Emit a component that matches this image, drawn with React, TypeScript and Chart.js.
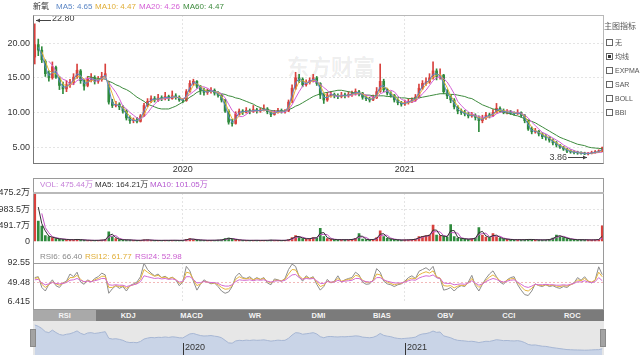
import React, { useEffect, useRef } from "react";
import { Chart, registerables } from "chart.js";

Chart.register(...registerables);

const FONT = '"Liberation Sans", Arial, "Noto Sans CJK SC", sans-serif';

// ---------- data (each point = ~4 trading days) ----------
const stockName = "新氧";
const opens = [
  18.0,19.8,19.0,17.4,15.6,15.0,16.5,15.0,13.8,13.4,
  14.0,14.3,15.1,16.0,14.6,13.9,14.8,15.0,14.5,14.8,
  15.2,14.0,11.5,11.0,11.2,10.8,10.2,9.2,8.8,8.9,
  8.7,9.5,11.0,11.6,12.0,11.8,12.1,12.0,12.3,12.0,
  12.4,12.2,11.8,11.7,13.0,14.2,14.5,13.8,13.2,12.9,
  13.0,13.2,12.8,12.5,11.8,10.2,8.6,8.4,9.8,10.2,
  10.0,10.3,10.1,10.4,10.2,10.3,10.5,10.1,9.7,10.0,
  10.3,10.1,10.2,11.5,13.5,15.0,14.8,14.0,14.3,14.6,
  15.0,14.2,12.5,11.8,12.5,12.6,12.4,12.3,12.5,12.4,
  12.6,12.7,13.0,12.8,12.2,12.0,11.8,12.1,13.0,14.5,
  13.3,12.8,12.5,11.8,11.4,11.2,11.4,11.6,11.8,12.2,
  13.5,14.2,14.4,15.0,16.0,15.2,15.4,13.0,12.4,11.8,
  10.8,10.2,10.0,9.8,9.5,9.6,9.3,8.8,9.2,9.6,
  9.5,10.0,10.6,10.3,10.0,10.1,9.9,9.8,10.0,9.6,
  8.8,7.6,7.2,7.3,6.9,6.5,6.4,6.0,5.6,5.3,
  5.0,4.7,4.4,4.3,4.2,4.15,4.1,4.0,4.05,4.2,
  4.3,4.35,
];
const closes = [
  19.8,19.0,17.6,15.6,15.0,16.6,15.1,13.9,13.4,14.0,
  14.3,15.1,16.1,14.6,13.8,14.8,15.0,14.5,14.8,15.2,
  15.6,11.5,11.0,11.2,10.8,10.2,9.2,8.8,8.9,8.7,
  9.5,11.0,11.6,12.0,11.8,12.1,12.0,12.3,12.0,12.4,
  12.2,11.8,11.7,13.0,14.2,14.5,13.8,13.2,12.9,13.0,
  13.2,12.8,12.5,11.8,10.2,8.6,8.4,9.8,10.2,10.0,
  10.3,10.1,10.4,10.2,10.3,10.5,10.1,9.7,10.0,10.3,
  10.1,10.2,11.5,13.5,15.0,14.8,14.0,14.3,14.6,15.0,
  14.2,12.5,11.8,12.5,12.6,12.4,12.3,12.5,12.4,12.6,
  12.7,13.0,12.8,12.2,12.0,11.8,12.1,13.0,14.5,13.3,
  12.8,12.5,11.8,11.4,11.2,11.4,11.6,11.8,12.2,13.5,
  14.2,14.4,15.0,16.0,15.2,15.4,13.0,12.4,11.8,10.8,
  10.2,10.0,9.8,9.5,9.6,9.3,8.8,9.2,9.6,9.5,
  10.0,10.6,10.3,10.0,10.1,9.9,9.8,10.0,9.6,8.8,
  7.6,7.2,7.3,6.9,6.5,6.4,6.0,5.6,5.3,5.0,
  4.7,4.4,4.3,4.2,4.15,4.1,4.0,4.05,4.2,4.3,
  4.35,4.9,
];
const highs = [
  22.8,20.6,19.5,17.6,16.0,17.3,16.7,15.2,14.4,14.6,
  14.8,15.6,17.0,16.2,14.8,15.2,15.6,15.3,15.2,15.8,
  17.0,14.5,11.9,11.6,11.4,11.0,10.4,9.5,9.2,9.3,
  9.7,11.3,12.0,12.4,12.3,12.6,12.4,12.9,12.5,13.1,
  12.7,12.4,12.0,13.3,14.6,14.8,14.6,13.9,13.5,13.4,
  13.6,13.4,13.0,12.6,11.9,10.4,9.0,10.1,10.5,10.4,
  10.7,10.5,11.0,10.6,10.6,11.1,10.7,10.2,10.3,10.6,
  10.5,10.4,11.8,14.0,15.8,15.5,15.0,14.7,15.0,15.5,
  15.2,14.3,12.7,12.9,13.0,12.8,12.7,12.9,12.8,13.0,
  13.1,13.4,13.2,12.9,12.4,12.2,12.5,13.6,17.0,14.8,
  13.5,13.0,12.6,12.0,11.6,11.8,12.0,12.1,12.6,14.1,
  14.6,15.0,15.6,17.3,16.3,16.3,15.5,13.3,12.6,12.0,
  11.0,10.5,10.3,10.0,10.0,9.8,9.5,9.6,10.0,9.9,
  10.4,11.3,10.8,10.5,10.4,10.3,10.1,10.4,10.1,9.7,
  8.9,7.9,7.7,7.4,7.1,6.8,6.5,6.2,5.8,5.4,
  5.1,4.8,4.6,4.5,4.4,4.3,4.25,4.2,4.4,4.5,
  4.6,5.0,
];
const lows = [
  17.0,18.2,17.2,15.2,14.5,14.8,14.9,13.3,12.7,13.0,
  13.6,14.0,14.9,14.2,13.2,13.7,14.4,14.1,14.2,14.5,
  15.0,11.2,10.7,10.8,10.4,9.9,8.9,8.4,8.5,8.5,
  8.6,9.4,10.8,11.4,11.5,11.6,11.7,11.8,11.7,11.9,
  11.9,11.6,11.4,11.6,12.9,13.9,13.5,12.6,12.5,12.6,
  12.8,12.5,12.2,11.5,10.0,8.3,8.0,8.3,9.6,9.7,
  9.9,9.8,10.0,9.9,10.0,10.2,9.8,9.4,9.6,9.9,
  9.9,9.9,10.1,11.4,13.3,14.3,13.7,13.8,14.1,14.4,
  13.9,12.0,11.3,11.6,12.2,12.1,12.0,12.1,12.1,12.2,
  12.3,12.5,12.4,11.9,11.7,11.5,11.7,12.0,12.9,13.0,
  12.5,12.2,11.5,11.1,10.9,11.0,11.2,11.4,11.6,12.1,
  13.3,13.9,14.2,14.8,14.7,14.8,12.7,12.0,11.4,10.5,
  9.8,9.7,9.5,9.2,9.3,8.9,7.2,8.5,9.0,9.2,
  9.4,9.9,10.0,9.8,9.8,9.7,9.6,9.7,9.3,8.5,
  7.4,6.9,7.0,6.6,6.2,6.0,5.7,5.3,5.0,4.8,
  4.5,4.2,4.1,4.0,3.95,3.95,3.9,3.86,4.0,4.1,
  4.2,4.3,
];
const ma5 = [
  null,19.4,18.3,16.6,15.3,15.8,15.85,14.5,13.65,13.7,
  14.15,14.7,15.6,15.35,14.2,14.3,14.9,14.75,14.65,15.0,
  15.4,13.55,11.25,11.1,11.0,10.5,9.7,9.0,8.85,8.8,
  9.1,10.25,11.3,11.8,11.9,11.95,12.05,12.15,12.15,12.2,
  12.3,12.0,11.75,12.35,13.6,14.35,14.15,13.5,13.05,12.95,
  13.1,13.0,12.65,12.15,11.0,9.4,8.5,9.1,10.0,10.1,
  10.15,10.2,10.25,10.3,10.25,10.4,10.3,9.9,9.85,10.15,
  10.2,10.15,10.85,12.5,14.25,14.9,14.4,14.15,14.45,14.8,
  14.6,13.35,12.15,12.15,12.55,12.5,12.35,12.4,12.45,12.5,
  12.65,12.85,12.9,12.5,12.1,11.9,11.95,12.55,13.75,13.9,
  13.05,12.65,12.15,11.6,11.3,11.3,11.5,11.7,12.0,12.85,
  13.85,14.3,14.7,15.5,15.6,15.3,14.2,12.7,12.1,11.3,
  10.5,10.1,9.9,9.65,9.55,9.45,9.05,9.0,9.4,9.55,
  9.75,10.3,10.45,10.15,10.05,10.0,9.85,9.9,9.8,9.2,
  8.2,7.4,7.25,7.1,6.7,6.45,6.2,5.8,5.45,5.15,
  4.85,4.55,4.35,4.25,4.18,4.12,4.05,4.03,4.12,4.25,
  4.33,4.65,
];
const ma10 = [
  null,null,18.8,17.4,16.07,15.73,15.57,15.2,14.13,13.77,
  13.9,14.47,15.17,15.27,14.83,14.4,14.53,14.77,14.77,14.83,
  15.2,14.1,12.7,11.23,11.0,10.73,10.07,9.4,8.97,8.8,
  9.03,9.73,10.7,11.53,11.8,11.97,11.97,12.13,12.1,12.23,
  12.2,12.13,11.9,12.17,12.97,13.9,14.17,13.83,13.3,13.03,
  13.03,13.0,12.83,12.37,11.5,10.2,9.07,8.93,9.47,10.0,
  10.17,10.13,10.27,10.23,10.3,10.33,10.3,10.1,9.93,10.0,
  10.13,10.2,10.6,11.73,13.33,14.43,14.6,14.37,14.3,14.63,
  14.6,13.9,12.83,12.27,12.3,12.5,12.43,12.4,12.4,12.5,
  12.57,12.77,12.83,12.67,12.33,12.0,11.97,12.3,13.2,13.6,
  13.53,12.87,12.37,11.9,11.47,11.33,11.4,11.6,11.87,12.5,
  13.3,14.03,14.53,15.13,15.4,15.53,14.53,13.6,12.4,11.67,
  10.93,10.33,10.0,9.77,9.63,9.47,9.23,9.1,9.2,9.43,
  9.7,10.03,10.3,10.3,10.13,10.0,9.93,9.9,9.8,9.47,
  8.67,7.87,7.37,7.13,6.9,6.6,6.3,6.0,5.63,5.3,
  5.0,4.7,4.47,4.3,4.22,4.15,4.08,4.05,4.08,4.18,
  4.28,4.47,
];
const ma20 = [
  null,null,null,null,17.4,16.8,16.0,15.2,14.8,14.6,
  14.1,14.1,14.6,14.8,14.8,14.9,14.9,14.5,14.6,14.9,
  15.0,14.3,13.6,12.9,12.0,10.9,10.5,10.0,9.6,9.2,
  9.0,9.4,9.9,10.6,11.2,11.7,11.9,12.0,12.0,12.2,
  12.2,12.1,12.0,12.2,12.6,13.0,13.4,13.7,13.7,13.5,
  13.2,13.0,12.9,12.7,12.1,11.2,10.3,9.8,9.4,9.4,
  9.7,10.1,10.2,10.2,10.3,10.3,10.3,10.2,10.1,10.1,
  10.0,10.1,10.4,11.1,12.1,13.0,13.8,14.3,14.5,14.5,
  14.4,14.1,13.6,13.2,12.7,12.4,12.3,12.5,12.4,12.4,
  12.5,12.6,12.7,12.7,12.5,12.4,12.2,12.2,12.7,12.9,
  13.1,13.2,13.0,12.4,11.9,11.7,11.5,11.5,11.6,12.1,
  12.7,13.2,13.9,14.6,15.0,15.2,14.9,14.4,13.6,12.7,
  11.6,11.0,10.5,10.1,9.8,9.6,9.4,9.3,9.3,9.3,
  9.4,9.8,10.0,10.1,10.2,10.2,10.0,10.0,9.9,9.6,
  9.2,8.6,8.1,7.6,7.1,6.9,6.6,6.3,6.0,5.7,
  5.3,5.0,4.7,4.5,4.3,4.2,4.1,4.1,4.1,4.15,
  4.2,4.26,
];
const ma60 = [
  null,null,null,null,null,null,null,null,null,null,
  null,null,null,null,null,15.2,15.1,15.0,14.9,14.9,
  14.8,14.5,14.3,14.0,13.8,13.5,13.3,13.0,12.6,12.2,
  11.9,11.6,11.2,11.0,10.8,10.6,10.5,10.5,10.5,10.7,
  10.9,11.2,11.5,11.8,12.2,12.5,12.9,13.1,13.2,13.2,
  13.1,13.0,12.9,12.7,12.6,12.4,12.3,12.1,12.0,11.8,
  11.6,11.4,11.2,10.9,10.7,10.5,10.4,10.3,10.2,10.2,
  10.2,10.2,10.4,10.6,10.9,11.1,11.4,11.7,12.0,12.3,
  12.5,12.7,12.8,12.9,13.0,13.1,13.2,13.2,13.1,13.0,
  12.9,12.8,12.7,12.6,12.5,12.5,12.4,12.4,12.4,12.4,
  12.3,12.3,12.2,12.2,12.1,12.1,12.0,12.0,12.1,12.1,
  12.2,12.3,12.4,12.5,12.6,12.7,12.7,12.7,12.6,12.6,
  12.5,12.4,12.3,12.1,12.0,11.7,11.4,11.1,10.9,10.7,
  10.5,10.4,10.2,10.0,9.9,9.8,9.6,9.5,9.3,9.1,
  8.9,8.7,8.5,8.2,7.9,7.6,7.3,7.0,6.7,6.4,
  6.2,6.0,5.8,5.6,5.4,5.3,5.2,5.0,4.9,4.85,
  4.8,4.75,
];
const volumes = [
  1475.2,620,470,180,150,120,90,80,70,60,
  55,60,70,50,45,40,38,35,40,45,
  60,300,150,90,60,50,55,45,40,35,
  40,55,50,40,35,38,35,40,35,42,
  38,35,40,70,90,60,50,45,40,38,
  42,40,45,55,90,110,70,60,45,40,
  38,35,40,38,35,40,38,45,40,38,
  36,40,60,120,180,130,90,80,100,120,
  110,400,150,90,70,60,55,60,55,60,
  70,100,240,80,60,55,70,120,330,150,
  100,70,60,50,45,50,55,60,80,150,
  160,180,200,505,200,180,160,140,520,150,
  110,90,80,70,90,110,425,200,140,120,
  240,150,100,80,70,60,55,60,55,60,
  70,60,55,50,50,55,70,110,200,160,
  120,90,70,60,55,60,55,50,50,55,
  70,475.44,
];
const volMa5 = [
  null,1048,545,325,165,135,105,85,75,65,
  58,58,65,60,48,43,39,37,38,43,
  53,180,225,120,75,55,53,50,43,38,
  38,48,53,45,38,37,37,38,38,39,
  40,37,38,55,80,75,55,48,43,39,
  40,41,43,50,73,100,90,65,53,43,
  39,37,38,39,37,38,39,42,43,39,
  37,38,50,90,150,155,110,85,90,110,
  115,255,275,120,80,65,58,58,58,58,
  65,85,170,160,70,58,63,95,225,240,
  125,85,65,55,48,48,53,58,70,115,
  155,170,190,350,350,190,170,150,330,335,
  130,100,85,75,80,100,270,310,170,130,
  180,195,125,90,75,65,58,58,58,58,
  65,65,58,53,50,53,63,90,155,180,
  140,105,80,65,58,58,58,53,50,53,
  63,164.21,
];
const volMa10 = [
  null,null,855,423,267,150,120,97,80,70,
  62,58,62,60,55,45,41,38,38,40,
  48,135,170,180,100,67,55,50,47,40,
  38,43,48,48,42,38,36,38,37,39,
  38,38,38,48,67,73,67,52,45,41,
  40,40,42,47,63,85,90,80,58,48,
  41,38,38,38,38,38,38,41,41,41,
  38,38,45,73,120,143,133,100,90,100,
  110,210,220,213,103,73,62,58,57,58,
  62,77,137,140,127,65,62,82,173,200,
  193,107,77,60,52,48,50,55,65,97,
  130,163,180,295,302,295,180,160,273,270,
  260,117,93,80,80,90,208,245,255,153,
  167,170,163,110,83,70,62,58,57,58,
  62,63,62,55,52,52,58,78,127,157,
  160,123,93,73,62,58,57,55,52,52,
  58,101.05,
];
const rsi6 = [
  60,62,38,30,45,55,42,38,48,52,
  68,62,72,50,45,55,50,58,62,70,
  66,25,35,42,36,40,30,42,46,50,
  62,92,78,70,64,68,60,63,57,61,
  55,42,50,85,75,52,32,45,55,50,
  46,48,40,30,25,28,40,62,70,60,
  58,62,55,60,56,60,48,44,57,55,
  52,58,78,90,85,62,52,64,58,62,
  45,32,40,56,48,52,64,50,55,58,
  60,72,66,50,45,46,55,80,72,52,
  46,44,40,44,46,52,60,64,58,74,
  78,82,76,85,60,58,32,34,38,30,
  38,42,40,50,65,42,30,45,58,68,
  75,62,50,45,55,60,62,44,32,22,
  20,30,46,42,40,44,40,42,38,36,
  40,38,44,48,60,54,62,52,48,55,
  84,66.4,
];
const rsi12 = [
  58,60,45,38,44,50,46,43,47,50,
  60,60,65,56,50,53,51,55,58,63,
  63,38,38,42,40,41,36,41,44,47,
  56,78,72,67,63,65,60,61,58,60,
  56,47,50,72,70,56,42,46,52,50,
  48,48,44,38,34,35,42,56,62,58,
  57,59,55,58,56,58,51,48,54,54,
  53,56,68,78,77,64,57,61,58,60,
  50,40,43,52,49,51,58,52,54,56,
  57,65,63,54,50,49,53,68,66,55,
  50,47,44,46,47,51,56,59,57,66,
  70,73,70,75,62,59,42,41,42,37,
  41,43,42,48,58,46,38,45,54,61,
  66,60,53,49,54,57,58,48,40,32,
  30,36,45,43,42,44,42,43,41,40,
  42,41,44,47,55,53,58,52,50,54,
  72,61.77,
];
const rsi24 = [
  55,56,48,44,46,49,47,46,47,49,
  54,55,58,54,51,52,51,53,55,58,
  58,44,43,44,43,43,40,42,44,46,
  51,64,62,60,58,59,57,58,56,57,
  55,50,51,62,62,56,48,49,51,50,
  49,49,47,43,41,41,44,51,55,54,
  54,55,53,55,54,55,52,50,52,53,
  52,54,60,66,67,60,56,58,57,58,
  53,47,47,51,50,50,54,51,52,53,
  54,58,58,53,51,50,52,60,60,55,
  52,50,48,48,48,50,53,55,54,59,
  62,64,63,66,60,58,48,47,47,44,
  45,46,45,48,53,48,43,46,51,55,
  58,56,52,50,52,54,55,50,45,40,
  38,41,45,44,44,45,44,44,43,43,
  44,43,45,47,51,50,53,50,49,51,
  60,52.98,
];

// ---------- axes / labels ----------
const xTickIdx = [42, 105];
const xTickLabels = ["2020", "2021"];
const priceRange = [2.69, 24.08];
const priceTicks = [5, 10, 15, 20];
const priceTickLabels = ["5.00", "10.00", "15.00", "20.00"];
const volRange = [0, 1475.2];
const volTicks = [0, 491.7, 983.5, 1475.2];
const volTickLabels = ["0", "491.7万", "983.5万", "1475.2万"];
const rsiRange = [6.415, 92.55];
const rsiTicks = [6.415, 49.48, 92.55];
const rsiTickLabels = ["6.415", "49.48", "92.55"];
const navRange = [1, 22.3];

const titleItems = [
  { text: stockName, color: "#333", left: 33 },
  { text: "MA5: 4.65", color: "#5b86c5", left: 56 },
  { text: "MA10: 4.47", color: "#e0ad35", left: 95 },
  { text: "MA20: 4.26", color: "#d45fd6", left: 139 },
  { text: "MA60: 4.47", color: "#3d8b3d", left: 183 },
];
const volHeader = [
  { text: "VOL: 475.44万", color: "#c57fd8", left: 40 },
  { text: "MA5: 164.21万", color: "#333", left: 95 },
  { text: "MA10: 101.05万", color: "#b65ad0", left: 150 },
];
const rsiHeader = [
  { text: "RSI6: 66.40", color: "#8a8a8a", left: 40 },
  { text: "RSI12: 61.77", color: "#e0ad35", left: 85 },
  { text: "RSI24: 52.98", color: "#c95ccf", left: 135 },
];
const indicatorTabs = ["RSI", "KDJ", "MACD", "WR", "DMI", "BIAS", "OBV", "CCI", "ROC"];
const legendTitle = "主图指标";
const legendItems = ["无", "均线", "EXPMA", "SAR", "BOLL", "BBI"];
const legendChecked = 1;
const watermark = "东方财富";

// ---------- styles ----------
const UP = "#d8413d";
const DOWN = "#2e8a3c";
const MA_COLORS = ["#5b86c5", "#e6b53c", "#d45fd6", "#3d8b3d"];
const GRID = "#e4e4e4";
const TXT = "#333";

const labels = closes.map((_, i) => String(i));
const isUp = (i: number) => closes[i] >= opens[i];
const candleColor = (c: any) => (isUp(c.dataIndex) ? UP : DOWN);

const lineDs = (data: any[], color: string, width = 1) => ({
  type: "line",
  data,
  borderColor: color,
  borderWidth: width,
  pointRadius: 0,
  tension: 0,
  fill: false,
  order: 1,
});

function xScale(showLabels: boolean, height: number) {
  return {
    type: "category",
    offset: true,
    grid: { offset: false, color: GRID, drawTicks: false },
    border: { display: false, dash: [2, 2] },
    ticks: {
      display: showLabels,
      autoSkip: false,
      maxRotation: 0,
      padding: 1,
      color: TXT,
      font: { size: 9, family: FONT },
      callback: (v: number) => {
        const k = xTickIdx.indexOf(v);
        return k >= 0 ? xTickLabels[k] : "";
      },
    },
    afterBuildTicks: (s: any) => {
      s.ticks = xTickIdx.map((v) => ({ value: v }));
    },
    afterFit: (s: any) => {
      s.height = height;
    },
  };
}

function yScale(range: number[], ticks: number[], tickLabels: string[], gridColor: any) {
  return {
    min: range[0],
    max: range[1],
    afterBuildTicks: (s: any) => {
      s.ticks = ticks.map((v) => ({ value: v }));
    },
    afterFit: (s: any) => {
      s.width = 33;
    },
    grid: { drawTicks: false, color: gridColor },
    border: { display: false, dash: [2, 2] },
    ticks: {
      padding: 3,
      color: TXT,
      font: { size: 9, family: FONT },
      callback: (v: number) => {
        const k = ticks.indexOf(v);
        return k >= 0 ? tickLabels[k] : "";
      },
    },
  };
}

const baseOptions = (padding: any, scales: any) => ({
  animation: false,
  responsive: false,
  maintainAspectRatio: false,
  devicePixelRatio: 1,
  layout: { padding },
  plugins: { legend: { display: false }, tooltip: { enabled: false } },
  scales,
});

const extremaPlugin = {
  id: "extrema",
  afterDatasetsDraw(chart: any) {
    const { ctx } = chart;
    const x = chart.scales.x;
    const y = chart.scales.y;
    const hi = Math.max(...highs);
    const iHi = highs.indexOf(hi);
    const lo = Math.min(...lows);
    const iLo = lows.indexOf(lo);
    ctx.save();
    ctx.strokeStyle = "#444";
    ctx.fillStyle = "#444";
    ctx.lineWidth = 1;
    ctx.font = `9px ${FONT}`;
    ctx.textBaseline = "middle";
    // max
    let px = Math.round(x.getPixelForValue(iHi)) + 1;
    let py = Math.round(y.getPixelForValue(hi)) - 3.5;
    ctx.beginPath();
    ctx.moveTo(px, py);
    ctx.lineTo(px + 15, py);
    ctx.stroke();
    ctx.beginPath();
    ctx.moveTo(px, py);
    ctx.lineTo(px + 4, py - 2);
    ctx.lineTo(px + 4, py + 2);
    ctx.closePath();
    ctx.fill();
    ctx.textAlign = "left";
    ctx.fillText(hi.toFixed(2), px + 16, py - 1.5);
    // min
    px = Math.round(x.getPixelForValue(iLo)) - 1;
    py = Math.round(y.getPixelForValue(lo)) + 2.5;
    ctx.beginPath();
    ctx.moveTo(px - 19, py);
    ctx.lineTo(px, py);
    ctx.stroke();
    ctx.beginPath();
    ctx.moveTo(px, py);
    ctx.lineTo(px - 4, py - 2);
    ctx.lineTo(px - 4, py + 2);
    ctx.closePath();
    ctx.fill();
    ctx.textAlign = "right";
    ctx.fillText(lo.toFixed(2), px - 20, py);
    ctx.restore();
  },
};

const navMarkerPlugin = {
  id: "navMarkers",
  afterDraw(chart: any) {
    const { ctx, chartArea: a } = chart;
    const x = chart.scales.x;
    ctx.save();
    ctx.strokeStyle = "#333";
    ctx.fillStyle = "#333";
    ctx.lineWidth = 1;
    ctx.font = `9px ${FONT}`;
    ctx.textBaseline = "middle";
    ctx.textAlign = "left";
    xTickIdx.forEach((v, k) => {
      const px = Math.round(x.getPixelForValue(v)) + 0.5;
      ctx.beginPath();
      ctx.moveTo(px, a.bottom - 12);
      ctx.lineTo(px, a.bottom);
      ctx.stroke();
      ctx.fillText(xTickLabels[k], px + 1.5, a.bottom - 7);
    });
    ctx.restore();
  },
};

function mainConfig() {
  return {
    type: "bar",
    data: {
      labels,
      datasets: [
        lineDs(ma5, MA_COLORS[0]),
        lineDs(ma10, MA_COLORS[1]),
        lineDs(ma20, MA_COLORS[2]),
        lineDs(ma60, MA_COLORS[3]),
        {
          type: "bar",
          data: lows.map((l, i) => [l, highs[i]]),
          backgroundColor: candleColor,
          barThickness: 1,
          grouped: false,
          order: 3,
        },
        {
          type: "bar",
          data: opens.map((o, i) => [o, closes[i]]),
          backgroundColor: candleColor,
          barThickness: 2,
          minBarLength: 1,
          grouped: false,
          order: 2,
        },
      ],
    },
    options: baseOptions(
      { top: 15, right: 37, left: 0, bottom: 0 },
      {
        x: xScale(true, 12),
        y: yScale(priceRange, priceTicks, priceTickLabels, GRID),
      }
    ),
    plugins: [extremaPlugin],
  };
}

function volConfig() {
  return {
    type: "bar",
    data: {
      labels,
      datasets: [
        lineDs(volMa5, "#333"),
        lineDs(volMa10, "#c453c4"),
        {
          type: "bar",
          data: volumes,
          backgroundColor: candleColor,
          barThickness: 2,
          order: 2,
        },
      ],
    },
    options: baseOptions(
      { top: 15, right: 37, left: 0, bottom: 1 },
      {
        x: xScale(false, 0),
        y: yScale(volRange, volTicks, volTickLabels, (c: any) =>
          c.tick && (c.tick.value === volTicks[1] || c.tick.value === volTicks[2]) ? GRID : "rgba(0,0,0,0)"
        ),
      }
    ),
  };
}

function rsiConfig() {
  return {
    type: "line",
    data: {
      labels,
      datasets: [
        lineDs(rsi24, "#d36bd3"),
        lineDs(rsi12, "#e6b53c"),
        lineDs(rsi6, "#8c8c8c"),
      ],
    },
    options: baseOptions(
      { top: 13, right: 37, left: 0, bottom: 3 },
      {
        x: xScale(false, 0),
        y: yScale(rsiRange, rsiTicks, rsiTickLabels, (c: any) =>
          c.tick && c.tick.value === rsiTicks[1] ? "#f2b9b9" : "rgba(0,0,0,0)"
        ),
      }
    ),
  };
}

function navConfig() {
  return {
    type: "line",
    data: {
      labels,
      datasets: [
        {
          data: closes,
          borderColor: "#a6b6d3",
          backgroundColor: "#c9d4e7",
          borderWidth: 1,
          pointRadius: 0,
          fill: "start",
          tension: 0,
        },
      ],
    },
    options: baseOptions(
      { top: 0, right: 37, left: 33, bottom: 0 },
      {
        x: { type: "category", offset: true, display: false },
        y: { display: false, min: navRange[0], max: navRange[1] },
      }
    ),
    plugins: [navMarkerPlugin],
  };
}

function ChartCanvas({ top, height, build }: { top: number; height: number; build: () => any }) {
  const ref = useRef<HTMLCanvasElement>(null);
  useEffect(() => {
    if (!ref.current) return;
    const chart = new Chart(ref.current, build() as any);
    return () => chart.destroy();
  }, []);
  return (
    <canvas
      ref={ref}
      width={641}
      height={height}
      style={{ position: "absolute", left: 0, top, width: 641, height, display: "block" }}
    />
  );
}

const abs = (s: any): any => ({ position: "absolute", ...s });

function TextRow({ items, cy, size = 8 }: { items: any[]; cy: number; size?: number }) {
  return (
    <>
      {items.map((it) => (
        <div
          key={it.text}
          style={abs({
            left: it.left,
            top: cy - 6,
            height: 12,
            lineHeight: "12px",
            fontSize: size,
            color: it.color,
            whiteSpace: "nowrap",
            fontFamily: FONT,
          })}
        >
          {it.text}
        </div>
      ))}
    </>
  );
}

export default function App() {
  return (
    <div
      style={abs({
        left: 0,
        top: 0,
        width: 641,
        height: 358,
        background: "#fff",
        overflow: "hidden",
        fontFamily: FONT,
      })}
    >
      {/* watermark */}
      <div
        style={abs({
          left: 287,
          top: 52,
          fontSize: 22,
          fontWeight: "bold",
          lineHeight: "26px",
          color: "rgba(0,0,0,0.08)",
          whiteSpace: "nowrap",
          fontFamily: '"Noto Sans CJK SC", sans-serif',
        })}
      >
        {watermark}
      </div>
      {/* navigator background */}
      <div style={abs({ left: 33, top: 321, width: 571, height: 34, background: "#e7e7e7" })} />

      <ChartCanvas top={0} height={175} build={mainConfig} />
      <ChartCanvas top={178} height={72} build={volConfig} />
      <ChartCanvas top={250} height={60} build={rsiConfig} />
      <ChartCanvas top={321} height={34} build={navConfig} />

      {/* frames */}
      <div
        style={abs({
          left: 33,
          top: 15,
          width: 571,
          height: 149,
          boxSizing: "border-box",
          borderTop: "1px solid #b8b8b8",
          borderRight: "1px solid #b8b8b8",
          borderLeft: "1px solid #777",
          borderBottom: "1px solid #777",
        })}
      />
      <div
        style={abs({
          left: 33,
          top: 178,
          width: 571,
          height: 132,
          boxSizing: "border-box",
          border: "1px solid #9a9a9a",
        })}
      />
      <div style={abs({ left: 33, top: 192, width: 571, height: 2, background: "#b9b9b9" })} />
      <div style={abs({ left: 33, top: 263, width: 571, height: 1, background: "#9a9a9a" })} />

      {/* texts */}
      <TextRow items={titleItems} cy={7} />
      <TextRow items={volHeader} cy={185} />
      <TextRow items={rsiHeader} cy={257} />

      {/* right legend */}
      <div style={abs({ left: 604, top: 21, fontSize: 8, lineHeight: "12px", color: "#555", whiteSpace: "nowrap" })}>
        {legendTitle}
      </div>
      {legendItems.map((t, i) => (
        <div key={t} style={abs({ left: 606, top: 36 + i * 14.1, height: 12, display: "flex", alignItems: "center" })}>
          <div
            style={{
              width: 7,
              height: 7,
              boxSizing: "border-box",
              border: "1px solid #666",
              background: "#fff",
              position: "relative",
              flex: "none",
            }}
          >
            {i === legendChecked && (
              <div style={abs({ left: 1, top: 1, width: 3, height: 3, background: "#333" })} />
            )}
          </div>
          <span style={{ marginLeft: 2, fontSize: 7, color: "#555", whiteSpace: "nowrap" }}>{t}</span>
        </div>
      ))}

      {/* indicator tabs */}
      <div style={abs({ left: 33, top: 310, width: 571, height: 11, display: "flex", background: "#7b7b7b" })}>
        {indicatorTabs.map((t, i) => (
          <div
            key={t}
            style={{
              flex: 1,
              textAlign: "center",
              fontSize: 7.5,
              lineHeight: "11px",
              fontWeight: "bold",
              color: "#f4f4f4",
              background: i === 0 ? "#a9a9a9" : "transparent",
            }}
          >
            {t}
          </div>
        ))}
      </div>

      {/* navigator handles */}
      <div style={abs({ left: 30, top: 329, width: 6, height: 18, background: "#a3a3a3", border: "1px solid #8a8a8a", boxSizing: "border-box" })} />
      <div style={abs({ left: 600, top: 329, width: 6, height: 18, background: "#a3a3a3", border: "1px solid #8a8a8a", boxSizing: "border-box" })} />
    </div>
  );
}
